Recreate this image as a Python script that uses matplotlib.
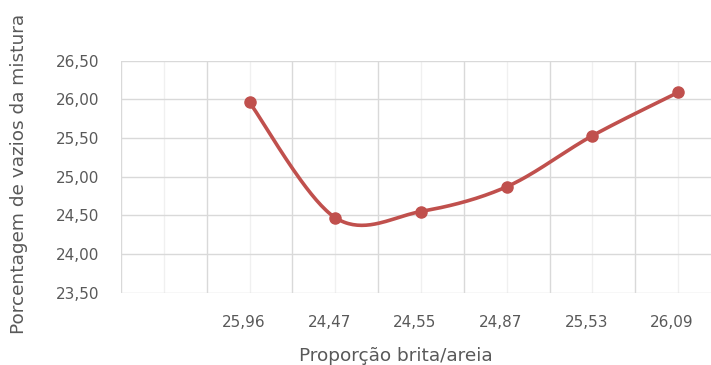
import numpy as np
import matplotlib
matplotlib.use("Agg")
import matplotlib.pyplot as plt
from matplotlib.ticker import FixedLocator, FuncFormatter
import matplotlib.transforms as mtransforms

# Categories along the x axis (first slot is left empty)
categories = ["", "25,96", "24,47", "24,55", "24,87", "25,53", "26,09"]
# Void percentage of the mix for each proportion
voids = [np.nan, 25.96, 24.47, 24.55, 24.87, 25.53, 26.09]

y_ticks = [23.5, 24.0, 24.5, 25.0, 25.5, 26.0, 26.5]

LINE = "#C0504D"
TEXT = "#595959"
GRID_MAJOR = "#D9D9D9"
GRID_MINOR = "#F0F0F0"


def smooth_curve(x, y, n=40):
    """Cubic Bezier smoothing through the points (Catmull-Rom style)."""
    x = np.asarray(x, float)
    y = np.asarray(y, float)
    pts = np.column_stack([x, y])
    out = []
    for i in range(len(pts) - 1):
        p0 = pts[i - 1] if i > 0 else pts[i]
        p1 = pts[i]
        p2 = pts[i + 1]
        p3 = pts[i + 2] if i + 2 < len(pts) else pts[i + 1]
        c1 = p1 + (p2 - p0) / 6.0
        c2 = p2 - (p3 - p1) / 6.0
        t = np.linspace(0, 1, n)[:, None]
        seg = ((1 - t) ** 3) * p1 + 3 * ((1 - t) ** 2) * t * c1 \
            + 3 * (1 - t) * t ** 2 * c2 + t ** 3 * p2
        out.append(seg if i == 0 else seg[1:])
    out = np.vstack(out)
    return out[:, 0], out[:, 1]


fig = plt.figure(figsize=(7.11, 3.65), dpi=100)
W, H = 711, 365
left_px, right_px, top_px, bottom_px = 121, 721, 60.7, 292.7
ax = fig.add_axes([left_px / W, 1 - bottom_px / H,
                   (right_px - left_px) / W, (bottom_px - top_px) / H])

xs = np.arange(len(categories))
valid = ~np.isnan(voids)
cx, cy = smooth_curve(xs[valid], np.array(voids)[valid])
ax.plot(cx, cy, color=LINE, lw=2.6, solid_capstyle="round", zorder=3)
ax.plot(xs[valid], np.array(voids)[valid], "o", color=LINE, ms=8, zorder=4)

ax.set_xlim(-0.5, len(categories) - 0.5)
ax.set_ylim(23.5, 26.5)

# gridlines: category boundaries (major) and category centres (minor)
for b in np.arange(-0.5, len(categories) + 0.5, 1.0):
    ax.axvline(b, color=GRID_MAJOR, lw=1.0, zorder=1)
for c in xs:
    ax.axvline(c, color=GRID_MINOR, lw=1.0, zorder=1)
for yt in y_ticks:
    ax.axhline(yt, color=GRID_MAJOR, lw=1.0, zorder=1)

for s in ax.spines.values():
    s.set_visible(False)

ax.xaxis.set_major_locator(FixedLocator(xs))
ax.set_xticklabels(categories)
ax.yaxis.set_major_locator(FixedLocator(y_ticks))
ax.yaxis.set_major_formatter(FuncFormatter(lambda v, p: f"{v:.2f}".replace(".", ",")))
ax.tick_params(axis="both", length=0, colors=TEXT, labelsize=11)
ax.tick_params(axis="y", pad=15.5)
ax.tick_params(axis="x", pad=16)

shift = mtransforms.ScaledTranslation(-6 / 100, 0, fig.dpi_scale_trans)
for lbl in ax.get_xticklabels():
    lbl.set_transform(lbl.get_transform() + shift)

fig.text(396 / W, 1 - 356 / H, "Proporção brita/areia", ha="center", va="center",
         color=TEXT, fontsize=13.3)
fig.text(19 / W, 1 - 174 / H, "Porcentagem de vazios da mistura", ha="center",
         va="center", rotation=90, color=TEXT, fontsize=13.3)

fig.savefig("out.png", dpi=100, facecolor="white")
